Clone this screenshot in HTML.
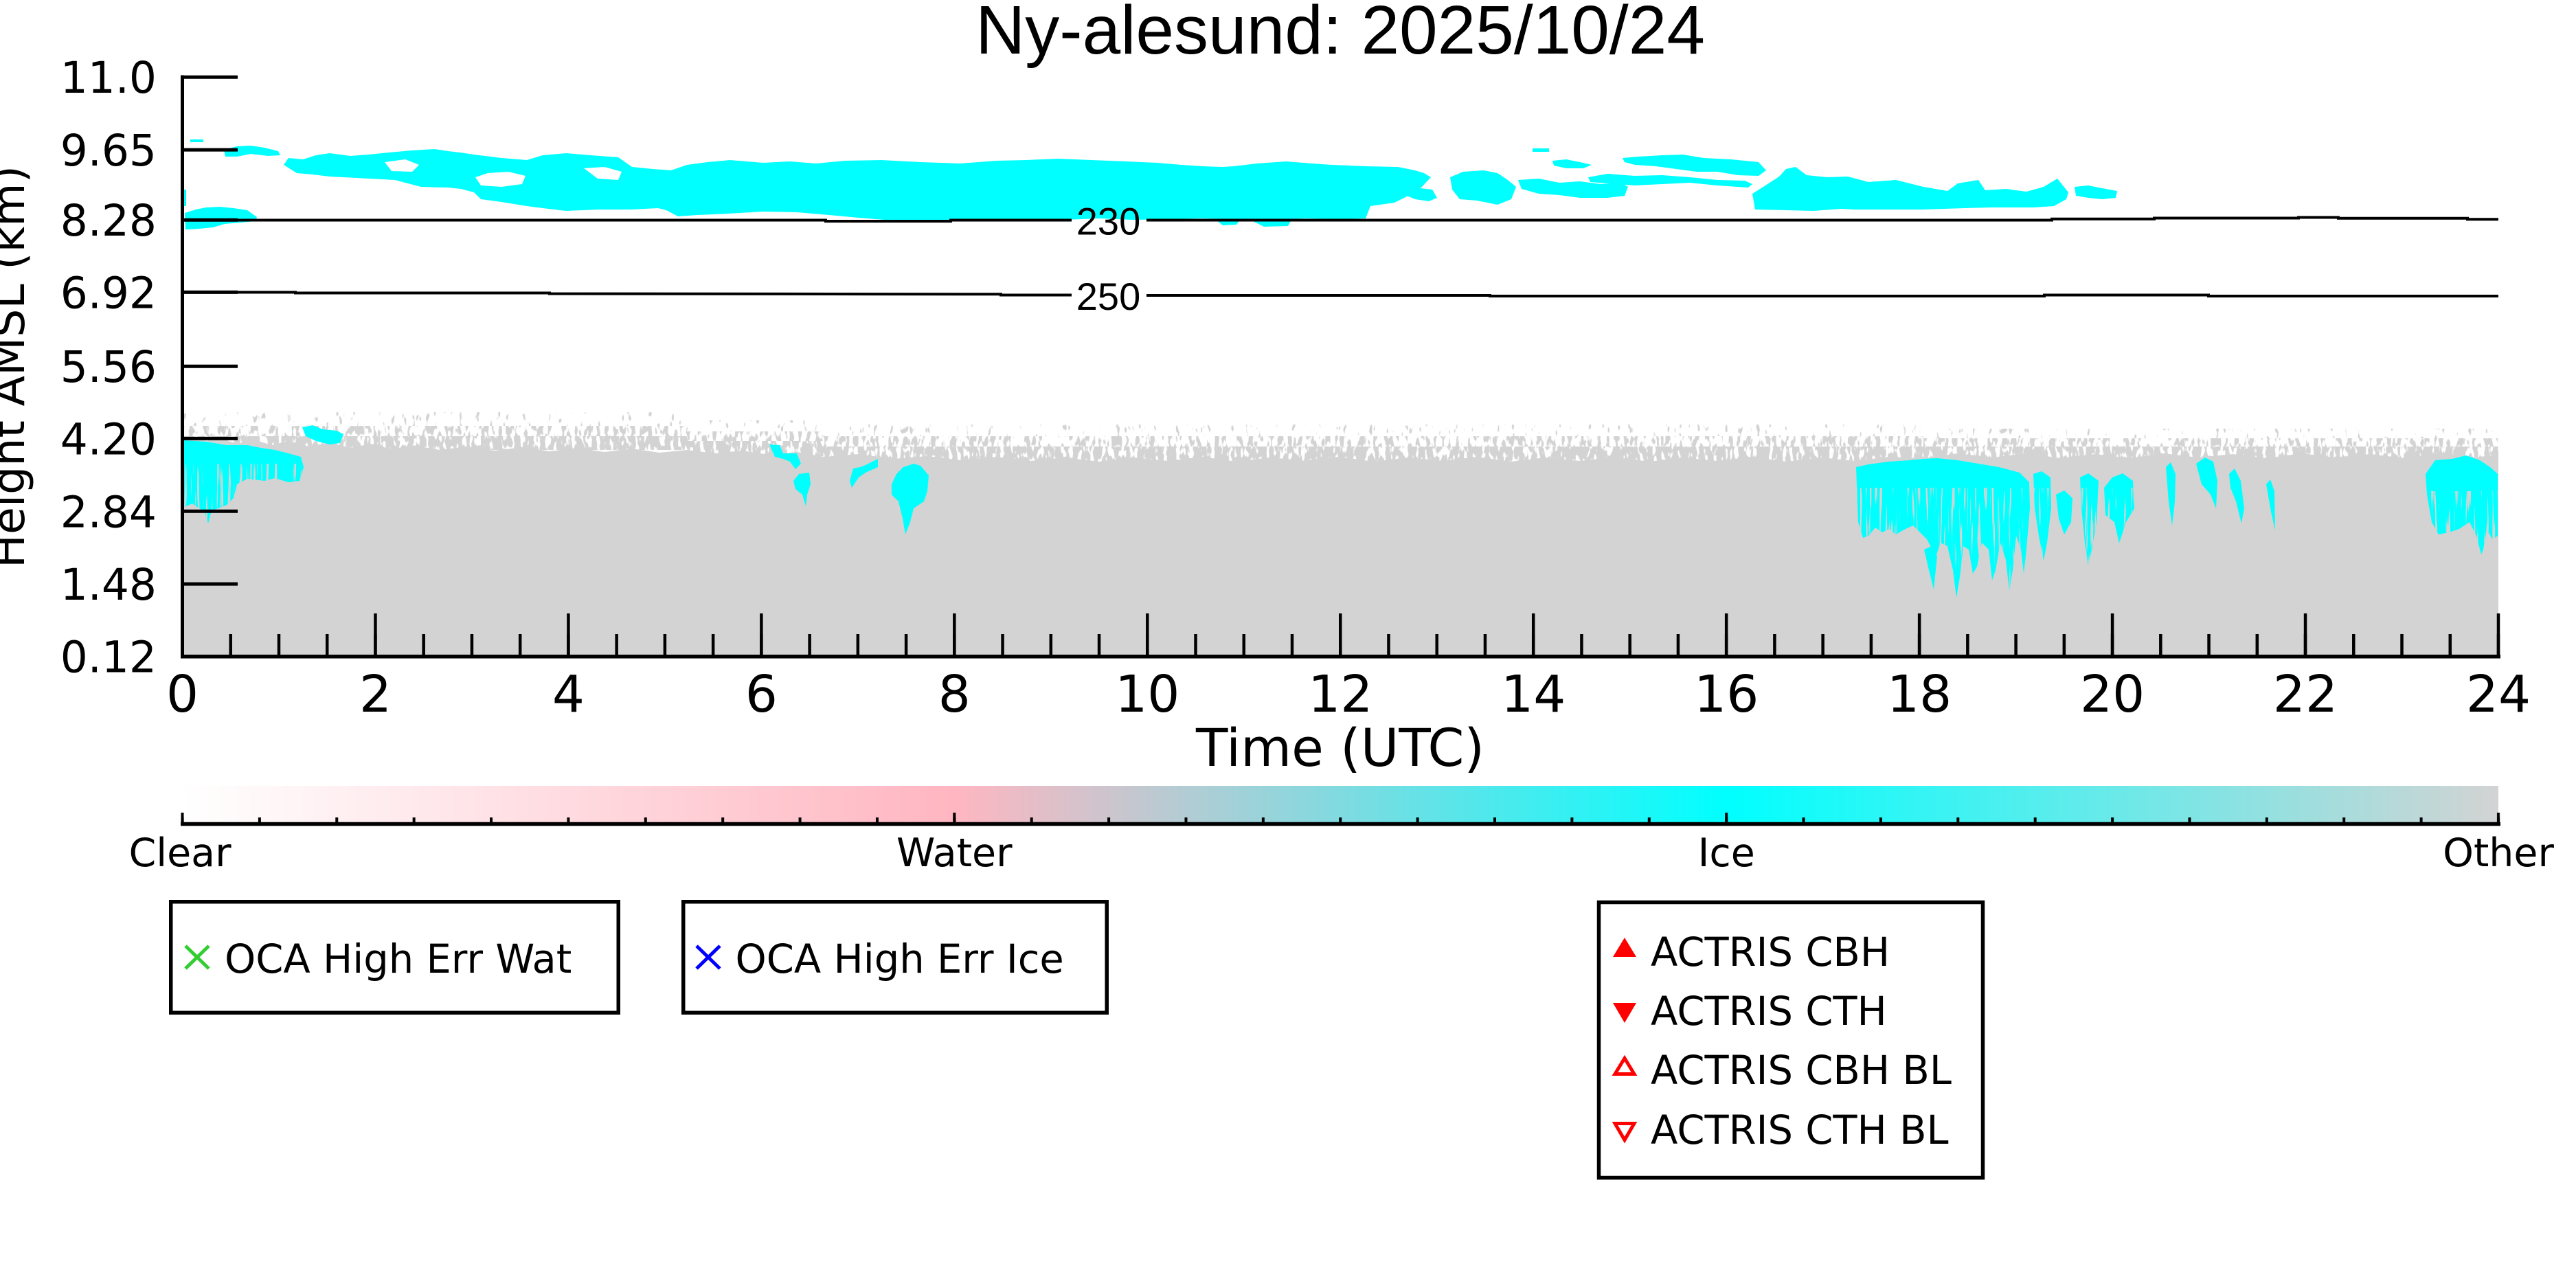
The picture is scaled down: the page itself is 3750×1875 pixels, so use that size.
<!DOCTYPE html>
<html>
<head>
<meta charset="utf-8">
<style>
html,body{margin:0;padding:0;background:#fff;width:3750px;height:1875px;overflow:hidden;}
svg{display:block;}
.dj{font-family:"DejaVu Sans","Liberation Sans",sans-serif;}
.lb{font-family:"Liberation Sans","DejaVu Sans",sans-serif;}
</style>
</head>
<body>
<svg width="3750" height="1875" viewBox="0 0 3750 1875" xmlns="http://www.w3.org/2000/svg" xmlns:xlink="http://www.w3.org/1999/xlink">
<defs>
  <filter id="fS" x="0" y="0" width="1" height="1" color-interpolation-filters="sRGB">
    <feTurbulence type="fractalNoise" baseFrequency="0.16 0.06" numOctaves="2" seed="5"/>
    <feColorMatrix type="matrix" values="0 0 0 0 0.827  0 0 0 0 0.827  0 0 0 0 0.827  12 0 0 0 -7.8"/>
  </filter>
  <filter id="fM" x="0" y="0" width="1" height="1" color-interpolation-filters="sRGB">
    <feTurbulence type="fractalNoise" baseFrequency="0.16 0.06" numOctaves="2" seed="9"/>
    <feColorMatrix type="matrix" values="0 0 0 0 0.827  0 0 0 0 0.827  0 0 0 0 0.827  12 0 0 0 -6.0"/>
  </filter>
  <filter id="fD" x="0" y="0" width="1" height="1" color-interpolation-filters="sRGB">
    <feTurbulence type="fractalNoise" baseFrequency="0.16 0.06" numOctaves="2" seed="13"/>
    <feColorMatrix type="matrix" values="0 0 0 0 0.827  0 0 0 0 0.827  0 0 0 0 0.827  12 0 0 0 -4.6"/>
  </filter>
  <filter id="fStreak" x="0" y="0" width="1" height="1" color-interpolation-filters="sRGB">
    <feTurbulence type="fractalNoise" baseFrequency="0.25 0.012" numOctaves="2" seed="21"/>
    <feColorMatrix type="matrix" values="0 0 0 0 0.827  0 0 0 0 0.827  0 0 0 0 0.827  10 0 0 0 -5.8"/>
  </filter>
  <linearGradient id="cb" x1="0" y1="0" x2="1" y2="0">
    <stop offset="0" stop-color="#ffffff"/>
    <stop offset="0.3333" stop-color="#ffb6c1"/>
    <stop offset="0.6667" stop-color="#00ffff"/>
    <stop offset="1" stop-color="#d3d3d3"/>
  </linearGradient>
  <pattern id="pxMin" patternUnits="userSpaceOnUse" x="263.25" y="0" width="70.2396" height="1875">
    <rect x="0" y="0" width="4.5" height="1875" fill="#000"/>
  </pattern>
  <pattern id="pxMaj" patternUnits="userSpaceOnUse" x="263.25" y="0" width="280.958" height="1875">
    <rect x="0" y="0" width="4.5" height="1875" fill="#000"/>
  </pattern>
  <pattern id="pcMin" patternUnits="userSpaceOnUse" x="263.5" y="0" width="112.383" height="1875">
    <rect x="0" y="0" width="4" height="1875" fill="#000"/>
  </pattern>
  <pattern id="pcMaj" patternUnits="userSpaceOnUse" x="263.5" y="0" width="1123.83" height="1875">
    <rect x="0" y="0" width="4" height="1875" fill="#000"/>
  </pattern>

  <path id="c1" d="M268,641 L300,643 L330,648 L360,648 L380,652 L400,655 L420,660 L438,665 L442,680 L436,700 L420,702 L400,696 L385,700 L360,697 L345,705 L340,725 L330,735 L318,740 L308,743 L303,762 L298,745 L290,740 L280,733 L268,738 Z"/>
  <path id="r1" d="M2702,680 L2720,676 L2750,672 L2780,670 L2800,668 L2820,667 L2850,670 L2880,675 L2910,680 L2940,688 L2954,702 L2955,740 L2950,800 L2946,835 L2942,800 L2935,780 L2930,830 L2925,860 L2920,815 L2912,790 L2905,830 L2900,845 L2895,800 L2885,790 L2878,825 L2872,835 L2866,800 L2858,795 L2853,840 L2848,870 L2843,830 L2835,795 L2825,790 L2818,810 L2813,800 L2805,785 L2795,775 L2785,765 L2770,772 L2760,778 L2750,770 L2740,775 L2730,768 L2720,780 L2712,783 L2705,760 Z"/>
  <path id="r2" d="M2801,800 L2812,795 L2820,810 L2815,858 L2808,830 Z"/>
  <path id="r3" d="M2960,690 L2972,686 L2985,695 L2986,740 L2980,790 L2975,816 L2968,780 L2962,740 Z"/>
  <path id="r4" d="M2993,720 L3005,714 L3017,725 L3015,760 L3005,778 L2997,755 Z"/>
  <path id="r5" d="M3028,695 L3040,689 L3055,700 L3052,760 L3045,800 L3040,823 L3035,790 L3030,740 Z"/>
  <path id="r6" d="M3063,710 L3075,695 L3090,689 L3105,700 L3107,740 L3095,760 L3085,791 L3078,760 L3065,750 Z"/>
  <path id="r7" d="M3531,690 L3545,670 L3570,668 L3590,663 L3610,670 L3625,680 L3636,690 L3636,780 L3628,785 L3620,770 L3615,800 L3612,807 L3605,780 L3595,760 L3580,770 L3565,775 L3550,778 L3540,760 L3533,720 Z"/>

  <clipPath id="clL"><use xlink:href="#c1"/></clipPath>
  <clipPath id="clR">
    <use xlink:href="#r1"/>
    <use xlink:href="#r3"/>
    <use xlink:href="#r5"/>
    <use xlink:href="#r6"/>
  </clipPath>
  <clipPath id="clR2"><use xlink:href="#r7"/></clipPath>
</defs>

<!-- Title -->
<text class="lb" x="1951" y="78" font-size="100" text-anchor="middle" fill="#000">Ny-alesund: 2025/10/24</text>

<!-- Gray "Other" solid region -->
<path fill="#d3d3d3" d="M265,955 L265,640 L290,636 L300,645 L320,638 L345,646 L370,640 L395,648 L420,642 L450,650 L480,644 L510,652 L540,646 L570,654 L600,648 L640,655 L680,650 L720,656 L760,651 L800,657 L840,652 L880,658 L920,653 L960,659 L1000,655 L1040,660 L1080,656 L1120,662 L1160,658 L1200,665 L1250,661 L1300,668 L1350,664 L1400,670 L1450,665 L1500,671 L1550,666 L1600,672 L1650,666 L1700,671 L1750,665 L1800,672 L1850,666 L1900,671 L1950,665 L2000,672 L2050,666 L2100,671 L2150,665 L2200,672 L2250,666 L2300,671 L2350,665 L2400,672 L2450,666 L2500,671 L2550,665 L2600,672 L2650,666 L2700,671 L2750,665 L2800,667 L2850,660 L2900,666 L2950,660 L3000,667 L3050,661 L3100,667 L3150,660 L3200,666 L3250,661 L3300,667 L3350,660 L3400,666 L3450,661 L3500,667 L3550,660 L3600,666 L3637,662 L3637,955 Z"/>

<!-- Speckle fringe bands -->
<rect x="265" y="600" width="735" height="20" fill="#000" filter="url(#fS)"/>
<rect x="265" y="620" width="735" height="15" fill="#000" filter="url(#fM)"/>
<rect x="265" y="635" width="735" height="20" fill="#000" filter="url(#fD)"/>
<rect x="1000" y="612" width="200" height="16" fill="#000" filter="url(#fS)"/>
<rect x="1000" y="628" width="200" height="14" fill="#000" filter="url(#fM)"/>
<rect x="1000" y="642" width="200" height="22" fill="#000" filter="url(#fD)"/>
<rect x="1200" y="618" width="1600" height="17" fill="#000" filter="url(#fS)"/>
<rect x="1200" y="635" width="1600" height="15" fill="#000" filter="url(#fM)"/>
<rect x="1200" y="650" width="1600" height="24" fill="#000" filter="url(#fD)"/>
<rect x="2800" y="624" width="837" height="14" fill="#000" filter="url(#fS)"/>
<rect x="2800" y="638" width="837" height="12" fill="#000" filter="url(#fM)"/>
<rect x="2800" y="650" width="837" height="20" fill="#000" filter="url(#fD)"/>

<!-- Upper cyan cloud -->
<g fill="#00ffff">
  <path d="M413,240 L420,230 L441,232 L460,226 L480,223 L510,227 L537,225 L566,222 L600,219 L633,217 L652,220 L670,222 L690,225 L730,230 L767,233 L790,226 L824,223 L860,226 L900,229 L920,243 L950,246 L977,248 L1000,240 L1030,236 L1063,233 L1111,237 L1150,235 L1188,238 L1230,234 L1283,233 L1340,236 L1398,238 L1450,234 L1494,233 L1540,231 L1589,233 L1640,235 L1685,237 L1720,240 L1750,242 L1780,243 L1796,242 L1830,238 L1872,235 L1910,238 L1939,240 L1987,242 L2035,243 L2060,248 L2073,252 L2083,258 L2070,272 L2050,285 L2030,295 L1995,300 L1988,318 L1950,319 L1900,318 L1850,320 L1800,319 L1750,318 L1700,319 L1650,320 L1600,318 L1550,320 L1500,319 L1440,320 L1384,322 L1300,321 L1250,317 L1207,313 L1160,309 L1111,308 L1060,311 L1015,313 L987,315 L970,306 L958,303 L920,305 L872,305 L824,307 L790,303 L767,300 L730,294 L700,290 L690,280 L671,275 L652,273 L613,272 L590,266 L575,262 L537,260 L500,258 L480,257 L455,254 L432,252 Z"/>
  <rect x="277" y="203" width="19" height="4"/>
  <rect x="267" y="276" width="4" height="24"/>
  <path d="M326,218 L345,213 L365,212 L385,215 L405,220 L408,226 L390,227 L365,224 L345,228 L328,228 Z"/>
  <path d="M269,310 L285,305 L300,302 L320,301 L340,303 L360,306 L374,316 L372,322 L350,324 L327,326 L310,331 L290,333 L270,334 Z"/>
  <path d="M1770,320 L1805,320 L1800,327 L1780,328 Z"/>
  <path d="M1820,320 L1880,320 L1875,329 L1840,330 Z"/>
  <path d="M1292,320 L1388,320 L1370,324 L1300,324 Z"/>
  <path d="M2044,275 L2060,273 L2085,276 L2092,288 L2080,293 L2060,290 L2048,285 Z"/>
  <path d="M2111,258 L2130,250 L2160,248 L2180,252 L2195,262 L2207,272 L2200,290 L2180,298 L2150,292 L2125,290 L2114,276 Z"/>
  <path d="M2210,262 L2240,260 L2270,266 L2300,264 L2330,268 L2360,266 L2370,272 L2365,285 L2340,288 L2300,288 L2270,284 L2240,282 L2215,275 Z"/>
  <path d="M2312,258 L2340,253 L2380,256 L2420,255 L2460,258 L2500,262 L2540,263 L2551,268 L2545,273 L2500,270 L2460,266 L2420,268 L2380,270 L2340,267 L2315,265 Z"/>
  <path d="M2260,234 L2280,232 L2300,236 L2317,240 L2305,245 L2280,245 L2262,241 Z"/>
  <rect x="2231" y="216" width="24" height="5"/>
  <path d="M2362,230 L2385,228 L2420,226 L2450,225 L2480,230 L2520,232 L2560,236 L2571,248 L2560,256 L2530,255 L2500,250 L2470,250 L2440,246 L2410,242 L2380,240 L2365,236 Z"/>
  <path d="M2551,282 L2570,270 L2590,257 L2600,246 L2614,243 L2630,255 L2660,258 L2690,257 L2720,265 L2760,262 L2800,272 L2835,278 L2850,267 L2880,262 L2890,277 L2920,275 L2950,279 L2975,272 L2995,260 L3011,280 L3008,290 L2990,300 L2960,302 L2900,302 L2860,303 L2800,305 L2740,305 L2700,305 L2680,304 L2640,307 L2600,306 L2555,305 Z"/>
  <path d="M3020,272 L3040,270 L3060,274 L3082,278 L3080,288 L3060,290 L3040,288 L3022,285 Z"/>
</g>
<g fill="#ffffff">
  <path d="M692,258 L710,252 L740,250 L765,256 L760,268 L730,272 L700,270 Z"/>
  <path d="M850,245 L880,243 L905,250 L900,262 L870,260 Z"/>
  <path d="M560,236 L590,232 L610,240 L600,250 L570,249 Z"/>
</g>

<!-- Lower cyan patches -->
<g fill="#00ffff">
  <use xlink:href="#c1"/>
  <path d="M440,622 L455,619 L470,625 L490,627 L500,632 L495,645 L480,647 L460,642 L445,635 Z"/>
  <path d="M1120,647 L1135,648 L1140,660 L1160,660 L1166,675 L1158,683 L1150,672 L1140,668 L1128,665 Z"/>
  <path d="M1163,690 L1178,688 L1180,705 L1175,720 L1173,737 L1168,720 L1158,712 L1155,700 Z"/>
  <path d="M1237,700 L1242,682 L1252,680 L1260,677 L1270,672 L1278,668 L1278,680 L1260,688 L1250,695 L1240,710 Z"/>
  <path d="M1298,705 L1305,690 L1315,680 L1330,675 L1340,678 L1352,692 L1350,715 L1345,730 L1330,740 L1325,760 L1318,778 L1314,755 L1308,730 L1298,720 Z"/>
  <use xlink:href="#r1"/>
  <use xlink:href="#r2"/>
  <use xlink:href="#r3"/>
  <use xlink:href="#r4"/>
  <use xlink:href="#r5"/>
  <use xlink:href="#r6"/>
  <path d="M3153,680 L3160,673 L3167,690 L3166,730 L3162,765 L3157,730 Z"/>
  <path d="M3197,675 L3210,666 L3222,672 L3228,700 L3226,740 L3218,720 L3205,705 Z"/>
  <path d="M3245,690 L3253,682 L3262,700 L3267,740 L3263,762 L3255,730 L3247,710 Z"/>
  <path d="M3299,705 L3305,698 L3311,715 L3312,772 L3306,745 Z"/>
  <use xlink:href="#r7"/>
</g>
<g clip-path="url(#clL)"><rect x="265" y="675" width="180" height="90" fill="#000" filter="url(#fStreak)"/></g>
<g clip-path="url(#clR)"><rect x="2700" y="710" width="410" height="165" fill="#000" filter="url(#fStreak)"/></g>
<g clip-path="url(#clR2)"><rect x="3530" y="715" width="107" height="95" fill="#000" filter="url(#fStreak)"/></g>

<!-- Contour lines -->
<g fill="none" stroke="#000" stroke-width="4">
  <polyline points="265,320.5 1202,320.5 1202,322 1384,322 1384,320.5 1560,320.5"/>
  <polyline points="1669,320.5 2987,320.5 2987,318.8 3136,318.8 3136,317.5 3346,317.5 3346,316.5 3404,316.5 3404,317.8 3592,317.8 3592,319.3 3637,319.3"/>
  <polyline points="265,425.5 430,425.5 430,426.5 800,426.5 800,427.5 1457,428.3 1457,429.5 1560,429.5"/>
  <polyline points="1669,430 2169,430 2169,431 2976,431 2976,429.5 3215,429.5 3215,431 3637,431"/>
</g>
<text class="lb" x="1613.5" y="341.5" font-size="56" text-anchor="middle" fill="#000">230</text>
<text class="lb" x="1613.5" y="451" font-size="56" text-anchor="middle" fill="#000">250</text>

<!-- Axes spines -->
<line x1="265.5" y1="109.5" x2="265.5" y2="958.5" stroke="#000" stroke-width="5"/>
<line x1="263" y1="955.7" x2="3640" y2="955.7" stroke="#000" stroke-width="5.5"/>

<!-- Y ticks -->
<path stroke="#000" stroke-width="5" d="M265,112.2H346 M265,218.1H346 M265,320.2H346 M265,425.4H346 M265,533.2H346 M265,638.4H346 M265,744.3H346 M265,850.1H346"/>
<g class="dj" font-size="63" text-anchor="end" fill="#000">
  <text x="228" y="135.2">11.0</text>
  <text x="228" y="241.1">9.65</text>
  <text x="228" y="343.2">8.28</text>
  <text x="228" y="448.4">6.92</text>
  <text x="228" y="556.2">5.56</text>
  <text x="228" y="661.4">4.20</text>
  <text x="228" y="767.3">2.84</text>
  <text x="228" y="873.1">1.48</text>
  <text x="228" y="978.4">0.12</text>
</g>
<text class="dj" font-size="65" text-anchor="middle" fill="#000" transform="translate(35,534) rotate(-90)">Height AMSL (km)</text>

<!-- X ticks (patterns) -->
<rect x="263" y="923" width="3378" height="32" fill="url(#pxMin)"/>
<rect x="263" y="893" width="3378" height="62" fill="url(#pxMaj)"/>
<g class="dj" font-size="74" text-anchor="middle" fill="#000">
  <text x="265.5" y="1036">0</text>
  <text x="546.5" y="1036">2</text>
  <text x="827.4" y="1036">4</text>
  <text x="1108.4" y="1036">6</text>
  <text x="1389.3" y="1036">8</text>
  <text x="1670.3" y="1036">10</text>
  <text x="1951.3" y="1036">12</text>
  <text x="2232.2" y="1036">14</text>
  <text x="2513.2" y="1036">16</text>
  <text x="2794.1" y="1036">18</text>
  <text x="3075.1" y="1036">20</text>
  <text x="3356.0" y="1036">22</text>
  <text x="3637.0" y="1036">24</text>
</g>
<text class="dj" x="1951" y="1115" font-size="76" text-anchor="middle" fill="#000">Time (UTC)</text>

<!-- Colorbar -->
<rect x="265.5" y="1144" width="3371.5" height="54" fill="url(#cb)"/>
<line x1="263" y1="1199.5" x2="3640" y2="1199.5" stroke="#000" stroke-width="5.5"/>
<rect x="263" y="1190" width="3378" height="9" fill="url(#pcMin)"/>
<rect x="263" y="1183" width="3378" height="16" fill="url(#pcMaj)"/>
<g class="dj" font-size="57" text-anchor="middle" fill="#000">
  <text x="262" y="1261">Clear</text>
  <text x="1389.3" y="1261">Water</text>
  <text x="2513.2" y="1261">Ice</text>
  <text x="3637" y="1261">Other</text>
</g>

<!-- Legend box 1 -->
<rect x="248.75" y="1312.75" width="651.5" height="161.5" fill="#fff" stroke="#000" stroke-width="5.5"/>
<path stroke="#32cd32" stroke-width="5" d="M270,1377L304,1410M270,1410L304,1377"/>
<text class="dj" x="327" y="1416" font-size="57.5" fill="#000">OCA High Err Wat</text>

<!-- Legend box 2 -->
<rect x="994.75" y="1312.75" width="616.5" height="161.5" fill="#fff" stroke="#000" stroke-width="5.5"/>
<path stroke="#0000ff" stroke-width="5" d="M1014,1377L1048,1410M1014,1410L1048,1377"/>
<text class="dj" x="1070.5" y="1416" font-size="57.5" fill="#000">OCA High Err Ice</text>

<!-- Legend box 3 -->
<rect x="2327.5" y="1313.5" width="559" height="401" fill="#fff" stroke="#000" stroke-width="5.5"/>
<polygon points="2348,1393 2382,1393 2365,1365" fill="#ff0000"/>
<polygon points="2348,1460 2382,1460 2365,1489" fill="#ff0000"/>
<polygon points="2351,1563.5 2379,1563.5 2365,1540.5" fill="none" stroke="#ff0000" stroke-width="5"/>
<polygon points="2351,1635.5 2379,1635.5 2365,1659.5" fill="none" stroke="#ff0000" stroke-width="5"/>
<g class="dj" font-size="57.5" fill="#000">
  <text x="2403" y="1406">ACTRIS CBH</text>
  <text x="2403" y="1492">ACTRIS CTH</text>
  <text x="2403" y="1578">ACTRIS CBH BL</text>
  <text x="2403" y="1665">ACTRIS CTH BL</text>
</g>
</svg>
</body>
</html>
